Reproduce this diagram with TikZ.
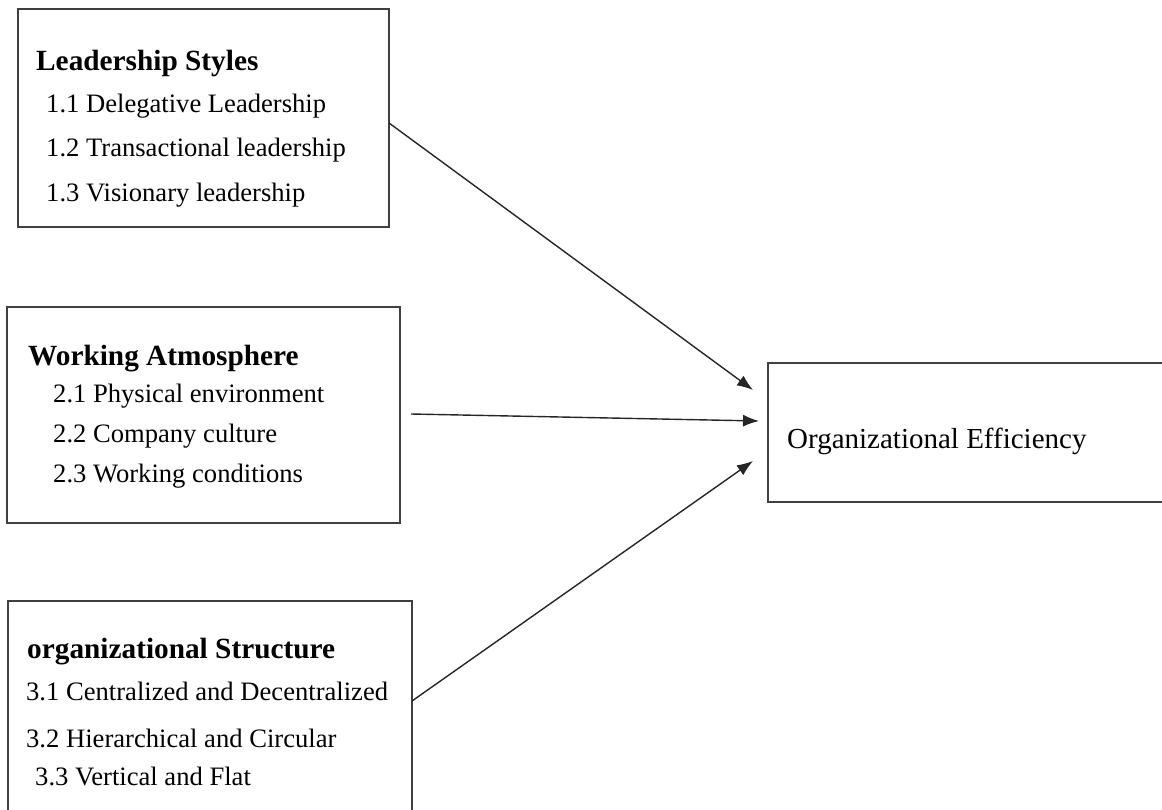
\documentclass[tikz,border=0pt]{standalone}
\usepackage{fontspec}
\setmainfont{Liberation Serif}
\usetikzlibrary{arrows.meta}

\tikzset{
  box/.style={draw=black!75, line width=1.4pt, rectangle, inner sep=0pt},
  head/.style={anchor=base west, inner sep=0pt, font=\fontsize{29.3}{32}\selectfont\bfseries},
  item/.style={anchor=base west, inner sep=0pt, font=\fontsize{26.6}{30}\selectfont},
  result/.style={anchor=base west, inner sep=0pt, font=\fontsize{29}{32}\selectfont},
  link/.style={draw=black!85, line width=1.4pt, -{Latex[length=16pt,width=12pt]}}
}

\begin{document}
\begin{tikzpicture}[x=1pt,y=-1pt]
  \useasboundingbox (0,0) rectangle (1162,810);
  \clip (0,0) rectangle (1162,810);

  % frames
  \node[box, minimum width=371pt, minimum height=218pt] (lead) at (203.5,118) {};
  \node[box, minimum width=393pt, minimum height=216pt] (atmo) at (203.5,415) {};
  \node[box, minimum width=404pt, minimum height=240pt] (struct) at (210,721) {};
  \node[box, minimum width=430pt, minimum height=139pt] (eff) at (983,432.5) {};

  % Leadership Styles
  \node[head] (leadh) at (36,71) {Leadership Styles};
  \node[item] (lead1) at (46,113) {1.1 Delegative Leadership};
  \node[item] (lead2) at (46,157) {1.2 Transactional leadership};
  \node[item] (lead3) at (46,202) {1.3 Visionary leadership};

  % Working Atmosphere
  \node[head] (atmoh) at (28,365) {Working Atmosphere};
  \node[item] (atmo1) at (53,402) {2.1 Physical environment};
  \node[item] (atmo2) at (53,442) {2.2 Company culture};
  \node[item] (atmo3) at (53,482) {2.3 Working conditions};

  % organizational Structure
  \node[head] (structh) at (27,658) {organizational Structure};
  \node[item] (struct1) at (26,700) {3.1 Centralized and Decentralized};
  \node[item] (struct2) at (26,747) {3.2 Hierarchical and Circular};
  \node[item] (struct3) at (35,785) {3.3 Vertical and Flat};

  % Organizational Efficiency
  \node[result] (effl) at (787,448) {Organizational Efficiency};

  % connector ends
  \coordinate (s1) at (389,123);
  \coordinate (s2) at (411,414);
  \coordinate (s3) at (412,701);
  \coordinate (t1) at (753,390);
  \coordinate (t2) at (759,421);
  \coordinate (t3) at (753,461);

  \draw[link] (s1) -- (t1);
  \draw[link] (s2) -- (t2);
  \draw[link] (s3) -- (t3);
\end{tikzpicture}
\end{document}
